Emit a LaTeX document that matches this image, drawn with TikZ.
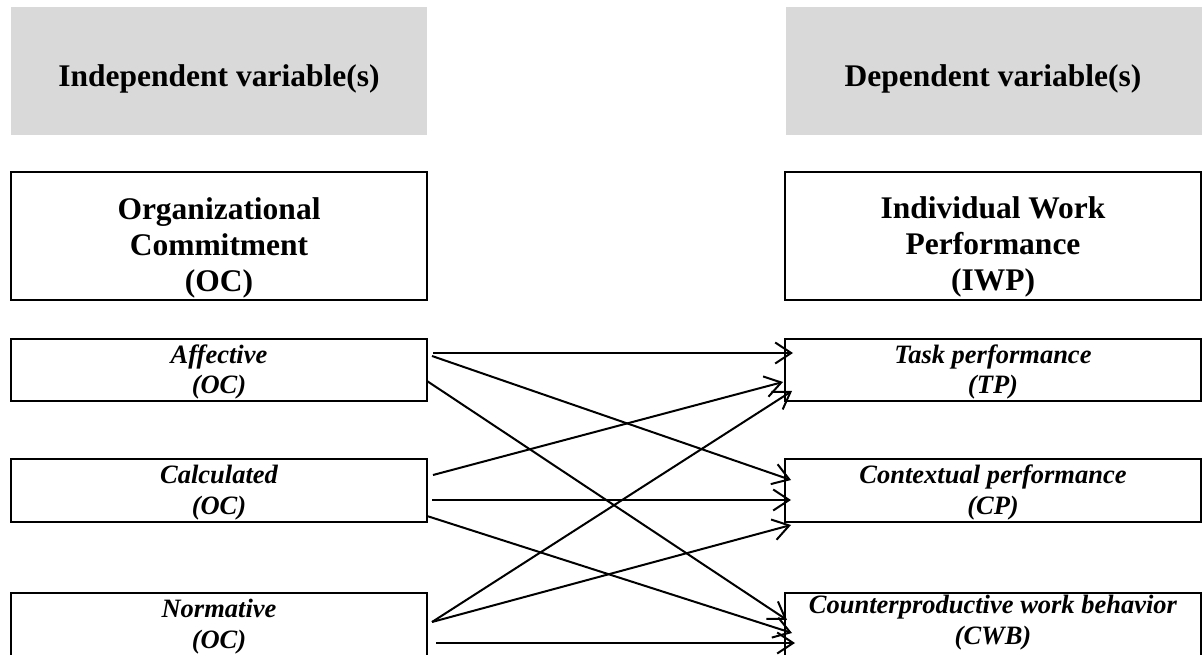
\documentclass[tikz,border=0pt]{standalone}
\usepackage{fontspec}
\setmainfont{Liberation Serif}
\usetikzlibrary{arrows.meta}
\definecolor{hdrgray}{HTML}{D9D9D9}
\begin{document}
\begin{tikzpicture}[x=1pt,y=1pt,
  hdr/.style={fill=hdrgray, draw=none, inner sep=0pt, outer sep=0pt},
  box/.style={draw, line width=2.4pt, inner sep=0pt, outer sep=0pt},
  bigtxt/.style={font=\fontsize{31.5}{36}\selectfont\bfseries, align=center, anchor=base, inner sep=0pt},
  smalltxt/.style={font=\fontsize{26.5}{30.5}\selectfont\bfseries\itshape, align=center, anchor=base, inner sep=0pt},
  link/.style={line width=2pt, -{Straight Barb[length=16pt,width=21pt,line width=2pt]}}
]
\useasboundingbox (0,0) rectangle (1202,654);
\clip (0,0) rectangle (1202,654);
% header boxes
\node[hdr, minimum width=416pt, minimum height=128pt] (ivh) at (219,583) {};
\node[hdr, minimum width=420pt, minimum height=128pt] (dvh) at (996,583) {};
\node[bigtxt] (ivt) at (219,567) {Independent variable(s)};
\node[bigtxt] (dvt) at (993,567) {Dependent variable(s)};
% main constructs
\node[box, minimum width=416pt, minimum height=128pt] (oc) at (219,418) {};
\node[box, minimum width=416pt, minimum height=128pt] (iwp) at (993,418) {};
\node[bigtxt] (oct) at (219,362) {Organizational\\Commitment\\(OC)};
\node[bigtxt] (iwpt) at (993,363) {Individual Work\\Performance\\(IWP)};
% dimensions
\node[box, minimum width=416pt, minimum height=62pt] (aff) at (219,284) {};
\node[box, minimum width=416pt, minimum height=63pt] (cal) at (219,163.5) {};
\node[box, minimum width=416pt, minimum height=63pt] (nor) at (219,29.5) {};
\node[box, minimum width=416pt, minimum height=62pt] (tp) at (993,284) {};
\node[box, minimum width=416pt, minimum height=63pt] (cp) at (993,163.5) {};
\node[box, minimum width=416pt, minimum height=63pt] (cwb) at (993,29.5) {};
\node[smalltxt] (afft) at (219,260) {Affective\\(OC)};
\node[smalltxt] (calt) at (219,140) {Calculated\\(OC)};
\node[smalltxt] (nort) at (219,6) {Normative\\(OC)};
\node[smalltxt] (tpt) at (993,260) {Task performance\\(TP)};
\node[smalltxt] (cpt) at (993,140) {Contextual performance\\(CP)};
\node[smalltxt] (cwbt) at (993,10) {Counterproductive work behavior\\(CWB)};
% links
\draw[link] ([shift={(6,17)}]aff.east) -- ([shift={(8,17)}]tp.west);
\draw[link] ([shift={(5,14)}]aff.east) -- ([shift={(6,10.5)}]cp.west);
\draw[link] ([shift={(0,-11)}]aff.east) -- ([shift={(2,4.5)}]cwb.west);
\draw[link] ([shift={(6,15.5)}]cal.east) -- ([shift={(-2,-12)}]tp.west);
\draw[link] ([shift={(5,-9.5)}]cal.east) -- ([shift={(6,-9.5)}]cp.west);
\draw[link] ([shift={(0,-25.5)}]cal.east) -- ([shift={(7,-8.5)}]cwb.west);
\draw[link] ([shift={(5,2.5)}]nor.east) -- ([shift={(7,-21)}]tp.west);
\draw[link] ([shift={(5,2.5)}]nor.east) -- ([shift={(6,-34.5)}]cp.west);
\draw[link] ([shift={(9,-18.5)}]nor.east) -- ([shift={(10,-18.5)}]cwb.west);
\end{tikzpicture}
\end{document}
